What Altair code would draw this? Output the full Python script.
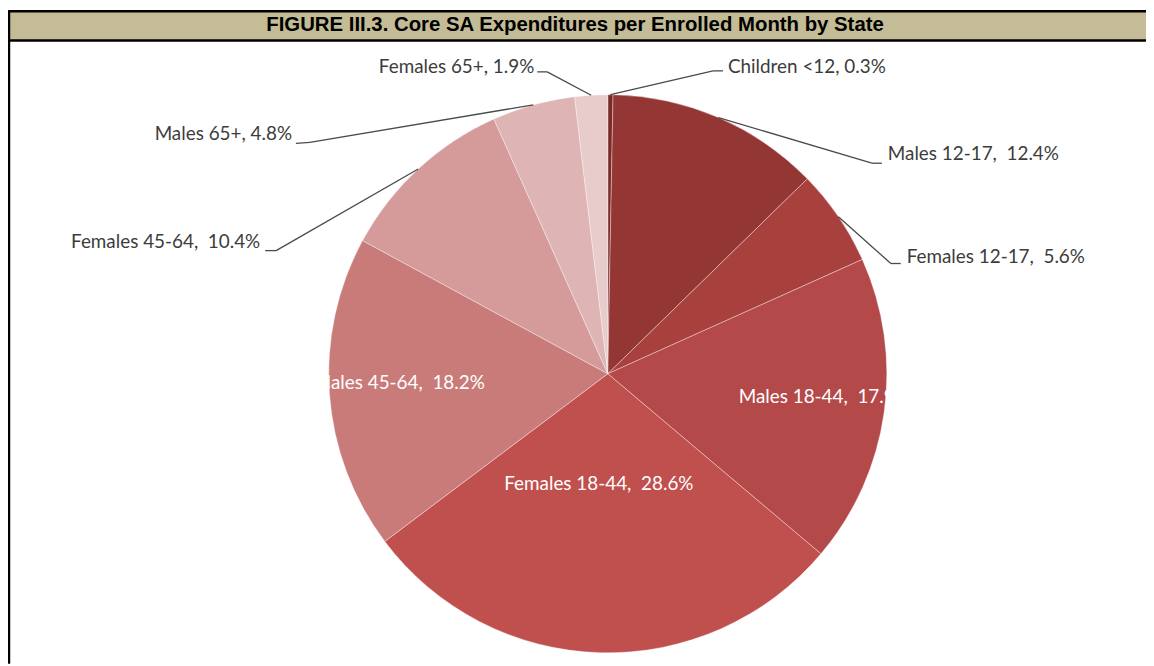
import math
import altair as alt
import pandas as pd

# ---------------- data ----------------
categories = ["Children <12", "Males 12-17", "Females 12-17", "Males 18-44",
              "Females 18-44", "Males 45-64", "Females 45-64", "Males 65+", "Females 65+"]
values = [0.3, 12.4, 5.6, 17.9, 28.6, 18.2, 10.4, 4.8, 1.9]
colors = ["#7A2B29", "#943634", "#A8403E", "#B4494A", "#C0504D",
          "#C97B7A", "#D49B9A", "#DEB5B4", "#E8CBCB"]
title_text = "FIGURE III.3. Core SA Expenditures per Enrolled Month by State"

# ---------------- layout (pixels, chart coordinates) ----------------
W, H = 1146, 658
CX, CY, R = 604, 366, 281
FS = 19
# outside labels: elbow point, line end, text anchor, align
outside = {
    "Children <12":  dict(ex=710, ey=61, lx=720, ly=61, tx=725, ty=57, align="left"),
    "Males 12-17":   dict(ex=870, ey=154, lx=880, ly=154, tx=886, ty=145, align="left"),
    "Females 12-17": dict(ex=889, ey=255, lx=899, ly=255, tx=905, ty=248, align="left"),
    "Females 45-64": dict(ex=270, ey=242, lx=259, ly=242, tx=254, ty=233, align="right"),
    "Males 65+":     dict(ex=304, ey=133, lx=290, ly=134, tx=286, ty=125, align="right"),
    "Females 65+":   dict(ex=543, ey=62, lx=533, ly=62, tx=530, ty=57, align="right"),
}
inside = {
    "Males 18-44": (822, 389),
    "Females 18-44": (595, 477),
    "Males 45-64": (394, 375),
}

# ---------------- derived tables ----------------
df = pd.DataFrame({"category": categories, "value": values, "order": range(len(values))})
total = sum(values)
cum = 0.0
rows_out, rows_in = [], []
for cat, v in zip(categories, values):
    mid = (cum + v / 2) / total * 2 * math.pi
    cum += v
    sep = ",\u00a0 " if "-" in cat else ", "
    label = f"{cat}{sep}{v}%"
    px = CX + R * math.sin(mid)
    py = CY - R * math.cos(mid)
    if cat in outside:
        o = outside[cat]
        rows_out.append(dict(label=label, px=px, py=py, **o))
    else:
        tx, ty = inside[cat]
        rows_in.append(dict(label=label, tx=tx, ty=ty))
lab_out = pd.DataFrame(rows_out)
lab_in = pd.DataFrame(rows_in)

# ---------------- chart ----------------
pie = alt.Chart(df).mark_arc(outerRadius=R, stroke="#ffffff", strokeWidth=0.8,
                             strokeOpacity=0.45).encode(
    theta=alt.Theta("value:Q", stack=True),
    color=alt.Color("category:N", scale=alt.Scale(domain=categories, range=colors), legend=None),
    order=alt.Order("order:Q"),
    x=alt.value(CX), y=alt.value(CY),
)

lead1 = alt.Chart(lab_out).mark_rule(color="#4a4a4a", strokeWidth=1.3).encode(
    x=alt.X("px:Q", scale=None), y=alt.Y("py:Q", scale=None),
    x2="ex:Q", y2="ey:Q")
lead2 = alt.Chart(lab_out).mark_rule(color="#4a4a4a", strokeWidth=1.3).encode(
    x=alt.X("ex:Q", scale=None), y=alt.Y("ey:Q", scale=None),
    x2="lx:Q", y2="ly:Q")

txt_left = alt.Chart(lab_out).transform_filter("datum.align == 'left'").mark_text(
    align="left", baseline="middle", font="Lato", fontSize=FS, color="#3c3c3c").encode(
    x=alt.X("tx:Q", scale=None), y=alt.Y("ty:Q", scale=None), text="label:N")
txt_right = alt.Chart(lab_out).transform_filter("datum.align == 'right'").mark_text(
    align="right", baseline="middle", font="Lato", fontSize=FS, color="#3c3c3c").encode(
    x=alt.X("tx:Q", scale=None), y=alt.Y("ty:Q", scale=None), text="label:N")
txt_in = alt.Chart(lab_in).mark_text(
    align="center", baseline="middle", font="Lato", fontSize=FS, color="#ffffff").encode(
    x=alt.X("tx:Q", scale=None), y=alt.Y("ty:Q", scale=None), text="label:N")

frame_df = pd.DataFrame({"k": [0]})
title_bar = alt.Chart(frame_df).mark_rect(color="#C4BC96").encode(
    x=alt.value(0), x2=alt.value(W), y=alt.value(0), y2=alt.value(30))
top_line = alt.Chart(frame_df).mark_rule(color="#000000", strokeWidth=2.5).encode(
    x=alt.value(0), x2=alt.value(W), y=alt.value(1))
mid_line = alt.Chart(frame_df).mark_rule(color="#000000", strokeWidth=2.5).encode(
    x=alt.value(0), x2=alt.value(W), y=alt.value(30.5))
left_line = alt.Chart(frame_df).mark_rule(color="#000000", strokeWidth=2.5).encode(
    x=alt.value(1), y=alt.value(0), y2=alt.value(H))
title = alt.Chart(frame_df).mark_text(
    font="Liberation Sans", fontSize=20.5, fontWeight="bold", color="#000000",
    align="center", baseline="middle").encode(
    x=alt.value(571), y=alt.value(15), text=alt.value(title_text))

chart = alt.layer(
    title_bar, top_line, mid_line, left_line, title,
    pie, lead1, lead2, txt_left, txt_right, txt_in
).properties(
    width=W, height=H, padding=0, autosize=alt.AutoSizeParams(type="none"),
    background="#ffffff"
).configure_view(stroke=None)

chart.save("out.html", embed_options={"renderer": "svg", "actions": False})
